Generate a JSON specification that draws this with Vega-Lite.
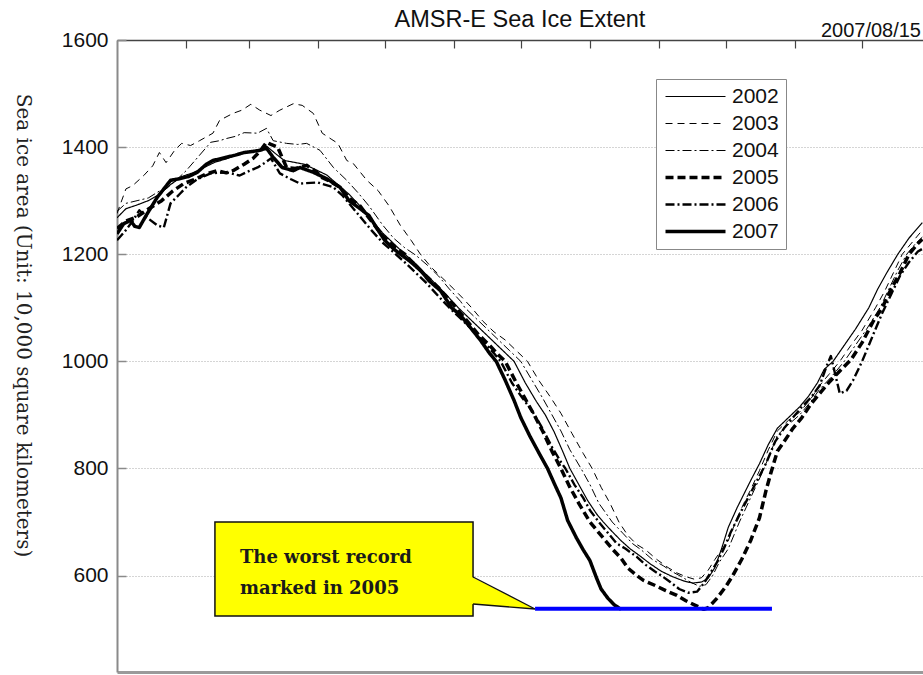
{
"$schema":"https://vega.github.io/schema/vega-lite/v6.json",
"width":806,"height":632,
"autosize":{"type":"none"},
"padding":{"left":117,"top":40,"right":0,"bottom":3},
"background":"white",
"title":{"text":"AMSR-E Sea Ice Extent","font":"Liberation Sans","fontSize":23.5,"fontWeight":"normal","color":"#111","offset":-29,"baseline":"alphabetic"},
"config":{"view":{"stroke":null}},
"resolve":{"axis":{"x":"independent"}},
"datasets":{
"ice":[
{"year":"2002","day":1,"extent":1268},{"year":"2002","day":5,"extent":1285},{"year":"2002","day":10,"extent":1292},{"year":"2002","day":15,"extent":1300},{"year":"2002","day":20,"extent":1312},{"year":"2002","day":25,"extent":1330},{"year":"2002","day":30,"extent":1345},{"year":"2002","day":35,"extent":1352},{"year":"2002","day":40,"extent":1362},{"year":"2002","day":45,"extent":1372},{"year":"2002","day":50,"extent":1378},{"year":"2002","day":55,"extent":1386},{"year":"2002","day":60,"extent":1390},{"year":"2002","day":65,"extent":1395},{"year":"2002","day":68,"extent":1402},{"year":"2002","day":72,"extent":1388},{"year":"2002","day":76,"extent":1375},{"year":"2002","day":80,"extent":1372},{"year":"2002","day":85,"extent":1368},{"year":"2002","day":90,"extent":1358},{"year":"2002","day":95,"extent":1348},{"year":"2002","day":100,"extent":1330},{"year":"2002","day":105,"extent":1312},{"year":"2002","day":110,"extent":1290},{"year":"2002","day":115,"extent":1265},{"year":"2002","day":120,"extent":1240},{"year":"2002","day":125,"extent":1220},{"year":"2002","day":130,"extent":1200},{"year":"2002","day":135,"extent":1182},{"year":"2002","day":140,"extent":1160},{"year":"2002","day":145,"extent":1140},{"year":"2002","day":150,"extent":1118},{"year":"2002","day":154,"extent":1100},{"year":"2002","day":159,"extent":1080},{"year":"2002","day":164,"extent":1060},{"year":"2002","day":169,"extent":1040},{"year":"2002","day":174,"extent":1020},{"year":"2002","day":179,"extent":1000},{"year":"2002","day":184,"extent":960},{"year":"2002","day":189,"extent":925},{"year":"2002","day":193,"extent":900},{"year":"2002","day":197,"extent":868},{"year":"2002","day":201,"extent":830},{"year":"2002","day":204,"extent":800},{"year":"2002","day":208,"extent":770},{"year":"2002","day":212,"extent":740},{"year":"2002","day":216,"extent":715},{"year":"2002","day":219,"extent":700},{"year":"2002","day":223,"extent":682},{"year":"2002","day":227,"extent":665},{"year":"2002","day":231,"extent":650},{"year":"2002","day":235,"extent":638},{"year":"2002","day":240,"extent":622},{"year":"2002","day":245,"extent":608},{"year":"2002","day":250,"extent":598},{"year":"2002","day":255,"extent":590},{"year":"2002","day":259,"extent":586},{"year":"2002","day":263,"extent":588},{"year":"2002","day":266,"extent":595},{"year":"2002","day":269,"extent":615},{"year":"2002","day":272,"extent":650},{"year":"2002","day":275,"extent":690},{"year":"2002","day":279,"extent":727},{"year":"2002","day":285,"extent":777},{"year":"2002","day":289,"extent":809},{"year":"2002","day":293,"extent":845},{"year":"2002","day":297,"extent":875},{"year":"2002","day":302,"extent":895},{"year":"2002","day":307,"extent":915},{"year":"2002","day":311,"extent":935},{"year":"2002","day":315,"extent":960},{"year":"2002","day":318,"extent":985},{"year":"2002","day":322,"extent":1000},{"year":"2002","day":327,"extent":1030},{"year":"2002","day":332,"extent":1060},{"year":"2002","day":338,"extent":1100},{"year":"2002","day":342,"extent":1135},{"year":"2002","day":346,"extent":1165},{"year":"2002","day":351,"extent":1200},{"year":"2002","day":356,"extent":1230},{"year":"2002","day":362,"extent":1259},
{"year":"2003","day":1,"extent":1276},{"year":"2003","day":5,"extent":1322},{"year":"2003","day":8,"extent":1328},{"year":"2003","day":13,"extent":1347},{"year":"2003","day":17,"extent":1365},{"year":"2003","day":20,"extent":1390},{"year":"2003","day":23,"extent":1371},{"year":"2003","day":27,"extent":1395},{"year":"2003","day":30,"extent":1407},{"year":"2003","day":34,"extent":1403},{"year":"2003","day":38,"extent":1412},{"year":"2003","day":44,"extent":1426},{"year":"2003","day":47,"extent":1450},{"year":"2003","day":53,"extent":1463},{"year":"2003","day":57,"extent":1469},{"year":"2003","day":61,"extent":1480},{"year":"2003","day":65,"extent":1469},{"year":"2003","day":70,"extent":1459},{"year":"2003","day":74,"extent":1469},{"year":"2003","day":80,"extent":1481},{"year":"2003","day":84,"extent":1478},{"year":"2003","day":89,"extent":1463},{"year":"2003","day":93,"extent":1426},{"year":"2003","day":97,"extent":1415},{"year":"2003","day":100,"extent":1407},{"year":"2003","day":104,"extent":1375},{"year":"2003","day":107,"extent":1369},{"year":"2003","day":113,"extent":1338},{"year":"2003","day":118,"extent":1319},{"year":"2003","day":123,"extent":1290},{"year":"2003","day":128,"extent":1254},{"year":"2003","day":133,"extent":1225},{"year":"2003","day":137,"extent":1200},{"year":"2003","day":142,"extent":1175},{"year":"2003","day":147,"extent":1155},{"year":"2003","day":152,"extent":1135},{"year":"2003","day":156,"extent":1118},{"year":"2003","day":160,"extent":1100},{"year":"2003","day":165,"extent":1075},{"year":"2003","day":170,"extent":1055},{"year":"2003","day":175,"extent":1040},{"year":"2003","day":180,"extent":1020},{"year":"2003","day":185,"extent":1000},{"year":"2003","day":190,"extent":965},{"year":"2003","day":195,"extent":935},{"year":"2003","day":200,"extent":903},{"year":"2003","day":205,"extent":865},{"year":"2003","day":210,"extent":828},{"year":"2003","day":214,"extent":800},{"year":"2003","day":218,"extent":765},{"year":"2003","day":222,"extent":735},{"year":"2003","day":226,"extent":700},{"year":"2003","day":230,"extent":675},{"year":"2003","day":234,"extent":658},{"year":"2003","day":238,"extent":648},{"year":"2003","day":243,"extent":630},{"year":"2003","day":248,"extent":615},{"year":"2003","day":252,"extent":605},{"year":"2003","day":256,"extent":598},{"year":"2003","day":260,"extent":593},{"year":"2003","day":263,"extent":596},{"year":"2003","day":266,"extent":610},{"year":"2003","day":269,"extent":630},{"year":"2003","day":272,"extent":648},{"year":"2003","day":275,"extent":665},{"year":"2003","day":279,"extent":708},{"year":"2003","day":282,"extent":735},{"year":"2003","day":285,"extent":760},{"year":"2003","day":289,"extent":796},{"year":"2003","day":293,"extent":835},{"year":"2003","day":297,"extent":870},{"year":"2003","day":302,"extent":890},{"year":"2003","day":307,"extent":905},{"year":"2003","day":312,"extent":930},{"year":"2003","day":316,"extent":955},{"year":"2003","day":320,"extent":975},{"year":"2003","day":325,"extent":1000},{"year":"2003","day":330,"extent":1030},{"year":"2003","day":335,"extent":1058},{"year":"2003","day":341,"extent":1100},{"year":"2003","day":345,"extent":1130},{"year":"2003","day":349,"extent":1165},{"year":"2003","day":353,"extent":1200},{"year":"2003","day":358,"extent":1225},{"year":"2003","day":362,"extent":1245},
{"year":"2004","day":1,"extent":1280},{"year":"2004","day":5,"extent":1295},{"year":"2004","day":10,"extent":1300},{"year":"2004","day":15,"extent":1305},{"year":"2004","day":20,"extent":1318},{"year":"2004","day":23,"extent":1322},{"year":"2004","day":28,"extent":1340},{"year":"2004","day":32,"extent":1356},{"year":"2004","day":37,"extent":1380},{"year":"2004","day":43,"extent":1409},{"year":"2004","day":47,"extent":1412},{"year":"2004","day":50,"extent":1416},{"year":"2004","day":54,"extent":1420},{"year":"2004","day":58,"extent":1427},{"year":"2004","day":64,"extent":1426},{"year":"2004","day":68,"extent":1435},{"year":"2004","day":71,"extent":1412},{"year":"2004","day":77,"extent":1407},{"year":"2004","day":82,"extent":1405},{"year":"2004","day":86,"extent":1407},{"year":"2004","day":92,"extent":1394},{"year":"2004","day":98,"extent":1362},{"year":"2004","day":104,"extent":1338},{"year":"2004","day":109,"extent":1315},{"year":"2004","day":114,"extent":1290},{"year":"2004","day":120,"extent":1255},{"year":"2004","day":125,"extent":1230},{"year":"2004","day":130,"extent":1212},{"year":"2004","day":135,"extent":1198},{"year":"2004","day":140,"extent":1180},{"year":"2004","day":145,"extent":1160},{"year":"2004","day":150,"extent":1135},{"year":"2004","day":155,"extent":1112},{"year":"2004","day":157,"extent":1100},{"year":"2004","day":162,"extent":1080},{"year":"2004","day":167,"extent":1060},{"year":"2004","day":172,"extent":1040},{"year":"2004","day":177,"extent":1020},{"year":"2004","day":182,"extent":1000},{"year":"2004","day":187,"extent":965},{"year":"2004","day":192,"extent":930},{"year":"2004","day":196,"extent":900},{"year":"2004","day":200,"extent":870},{"year":"2004","day":204,"extent":835},{"year":"2004","day":209,"extent":800},{"year":"2004","day":213,"extent":770},{"year":"2004","day":217,"extent":735},{"year":"2004","day":223,"extent":700},{"year":"2004","day":228,"extent":678},{"year":"2004","day":232,"extent":660},{"year":"2004","day":236,"extent":648},{"year":"2004","day":241,"extent":630},{"year":"2004","day":246,"extent":618},{"year":"2004","day":250,"extent":607},{"year":"2004","day":254,"extent":598},{"year":"2004","day":258,"extent":588},{"year":"2004","day":262,"extent":580},{"year":"2004","day":265,"extent":583},{"year":"2004","day":268,"extent":600},{"year":"2004","day":271,"extent":625},{"year":"2004","day":275,"extent":650},{"year":"2004","day":280,"extent":700},{"year":"2004","day":285,"extent":745},{"year":"2004","day":290,"extent":790},{"year":"2004","day":294,"extent":830},{"year":"2004","day":297,"extent":862},{"year":"2004","day":302,"extent":882},{"year":"2004","day":307,"extent":900},{"year":"2004","day":312,"extent":925},{"year":"2004","day":316,"extent":948},{"year":"2004","day":321,"extent":970},{"year":"2004","day":327,"extent":1000},{"year":"2004","day":332,"extent":1030},{"year":"2004","day":337,"extent":1060},{"year":"2004","day":343,"extent":1100},{"year":"2004","day":347,"extent":1135},{"year":"2004","day":351,"extent":1170},{"year":"2004","day":355,"extent":1200},{"year":"2004","day":359,"extent":1220},{"year":"2004","day":362,"extent":1232},
{"year":"2005","day":1,"extent":1248},{"year":"2005","day":5,"extent":1262},{"year":"2005","day":10,"extent":1270},{"year":"2005","day":16,"extent":1287},{"year":"2005","day":21,"extent":1300},{"year":"2005","day":26,"extent":1318},{"year":"2005","day":31,"extent":1332},{"year":"2005","day":36,"extent":1340},{"year":"2005","day":41,"extent":1350},{"year":"2005","day":46,"extent":1356},{"year":"2005","day":50,"extent":1352},{"year":"2005","day":53,"extent":1356},{"year":"2005","day":58,"extent":1368},{"year":"2005","day":62,"extent":1379},{"year":"2005","day":65,"extent":1392},{"year":"2005","day":68,"extent":1409},{"year":"2005","day":70,"extent":1405},{"year":"2005","day":73,"extent":1400},{"year":"2005","day":77,"extent":1362},{"year":"2005","day":81,"extent":1360},{"year":"2005","day":86,"extent":1366},{"year":"2005","day":90,"extent":1355},{"year":"2005","day":93,"extent":1343},{"year":"2005","day":97,"extent":1335},{"year":"2005","day":101,"extent":1325},{"year":"2005","day":105,"extent":1305},{"year":"2005","day":110,"extent":1290},{"year":"2005","day":115,"extent":1262},{"year":"2005","day":120,"extent":1235},{"year":"2005","day":125,"extent":1215},{"year":"2005","day":130,"extent":1200},{"year":"2005","day":135,"extent":1178},{"year":"2005","day":140,"extent":1158},{"year":"2005","day":145,"extent":1138},{"year":"2005","day":150,"extent":1115},{"year":"2005","day":153,"extent":1100},{"year":"2005","day":158,"extent":1075},{"year":"2005","day":163,"extent":1050},{"year":"2005","day":168,"extent":1030},{"year":"2005","day":172,"extent":1012},{"year":"2005","day":175,"extent":1000},{"year":"2005","day":180,"extent":960},{"year":"2005","day":184,"extent":930},{"year":"2005","day":188,"extent":900},{"year":"2005","day":192,"extent":868},{"year":"2005","day":196,"extent":832},{"year":"2005","day":200,"extent":800},{"year":"2005","day":204,"extent":765},{"year":"2005","day":208,"extent":735},{"year":"2005","day":213,"extent":700},{"year":"2005","day":218,"extent":675},{"year":"2005","day":223,"extent":650},{"year":"2005","day":227,"extent":632},{"year":"2005","day":230,"extent":614},{"year":"2005","day":234,"extent":600},{"year":"2005","day":237,"extent":591},{"year":"2005","day":242,"extent":582},{"year":"2005","day":247,"extent":572},{"year":"2005","day":252,"extent":563},{"year":"2005","day":256,"extent":553},{"year":"2005","day":260,"extent":545},{"year":"2005","day":264,"extent":537},{"year":"2005","day":266,"extent":540},{"year":"2005","day":270,"extent":558},{"year":"2005","day":274,"extent":580},{"year":"2005","day":277,"extent":600},{"year":"2005","day":281,"extent":630},{"year":"2005","day":285,"extent":665},{"year":"2005","day":289,"extent":708},{"year":"2005","day":292,"extent":760},{"year":"2005","day":294,"extent":790},{"year":"2005","day":297,"extent":832},{"year":"2005","day":300,"extent":850},{"year":"2005","day":304,"extent":875},{"year":"2005","day":308,"extent":895},{"year":"2005","day":312,"extent":920},{"year":"2005","day":316,"extent":940},{"year":"2005","day":320,"extent":960},{"year":"2005","day":325,"extent":982},{"year":"2005","day":330,"extent":1003},{"year":"2005","day":335,"extent":1035},{"year":"2005","day":340,"extent":1075},{"year":"2005","day":344,"extent":1100},{"year":"2005","day":348,"extent":1135},{"year":"2005","day":352,"extent":1165},{"year":"2005","day":356,"extent":1200},{"year":"2005","day":360,"extent":1220},{"year":"2005","day":362,"extent":1228},
{"year":"2006","day":1,"extent":1226},{"year":"2006","day":5,"extent":1245},{"year":"2006","day":8,"extent":1262},{"year":"2006","day":11,"extent":1282},{"year":"2006","day":14,"extent":1270},{"year":"2006","day":19,"extent":1254},{"year":"2006","day":22,"extent":1250},{"year":"2006","day":25,"extent":1295},{"year":"2006","day":29,"extent":1312},{"year":"2006","day":32,"extent":1325},{"year":"2006","day":37,"extent":1340},{"year":"2006","day":43,"extent":1351},{"year":"2006","day":50,"extent":1353},{"year":"2006","day":56,"extent":1347},{"year":"2006","day":60,"extent":1355},{"year":"2006","day":64,"extent":1362},{"year":"2006","day":67,"extent":1370},{"year":"2006","day":70,"extent":1379},{"year":"2006","day":74,"extent":1351},{"year":"2006","day":79,"extent":1340},{"year":"2006","day":83,"extent":1332},{"year":"2006","day":91,"extent":1334},{"year":"2006","day":98,"extent":1325},{"year":"2006","day":102,"extent":1310},{"year":"2006","day":105,"extent":1295},{"year":"2006","day":110,"extent":1270},{"year":"2006","day":115,"extent":1245},{"year":"2006","day":120,"extent":1222},{"year":"2006","day":126,"extent":1200},{"year":"2006","day":130,"extent":1185},{"year":"2006","day":135,"extent":1165},{"year":"2006","day":140,"extent":1145},{"year":"2006","day":145,"extent":1122},{"year":"2006","day":150,"extent":1100},{"year":"2006","day":155,"extent":1080},{"year":"2006","day":160,"extent":1060},{"year":"2006","day":165,"extent":1038},{"year":"2006","day":170,"extent":1015},{"year":"2006","day":173,"extent":1000},{"year":"2006","day":178,"extent":960},{"year":"2006","day":183,"extent":930},{"year":"2006","day":187,"extent":908},{"year":"2006","day":191,"extent":880},{"year":"2006","day":196,"extent":840},{"year":"2006","day":200,"extent":812},{"year":"2006","day":202,"extent":800},{"year":"2006","day":206,"extent":770},{"year":"2006","day":210,"extent":745},{"year":"2006","day":213,"extent":722},{"year":"2006","day":217,"extent":700},{"year":"2006","day":221,"extent":680},{"year":"2006","day":225,"extent":660},{"year":"2006","day":229,"extent":650},{"year":"2006","day":234,"extent":635},{"year":"2006","day":238,"extent":620},{"year":"2006","day":242,"extent":608},{"year":"2006","day":245,"extent":600},{"year":"2006","day":249,"extent":588},{"year":"2006","day":253,"extent":575},{"year":"2006","day":257,"extent":568},{"year":"2006","day":261,"extent":570},{"year":"2006","day":264,"extent":585},{"year":"2006","day":267,"extent":605},{"year":"2006","day":270,"extent":625},{"year":"2006","day":273,"extent":650},{"year":"2006","day":276,"extent":680},{"year":"2006","day":279,"extent":705},{"year":"2006","day":282,"extent":730},{"year":"2006","day":287,"extent":770},{"year":"2006","day":292,"extent":810},{"year":"2006","day":296,"extent":850},{"year":"2006","day":300,"extent":875},{"year":"2006","day":304,"extent":895},{"year":"2006","day":308,"extent":915},{"year":"2006","day":312,"extent":932},{"year":"2006","day":316,"extent":955},{"year":"2006","day":319,"extent":990},{"year":"2006","day":321,"extent":1010},{"year":"2006","day":323,"extent":975},{"year":"2006","day":325,"extent":940},{"year":"2006","day":328,"extent":945},{"year":"2006","day":331,"extent":965},{"year":"2006","day":335,"extent":1000},{"year":"2006","day":340,"extent":1050},{"year":"2006","day":344,"extent":1090},{"year":"2006","day":348,"extent":1125},{"year":"2006","day":352,"extent":1160},{"year":"2006","day":356,"extent":1185},{"year":"2006","day":360,"extent":1205},{"year":"2006","day":362,"extent":1210},
{"year":"2007","day":1,"extent":1238},{"year":"2007","day":4,"extent":1257},{"year":"2007","day":7,"extent":1263},{"year":"2007","day":9,"extent":1252},{"year":"2007","day":11,"extent":1250},{"year":"2007","day":14,"extent":1272},{"year":"2007","day":19,"extent":1306},{"year":"2007","day":25,"extent":1338},{"year":"2007","day":29,"extent":1341},{"year":"2007","day":33,"extent":1345},{"year":"2007","day":37,"extent":1353},{"year":"2007","day":41,"extent":1368},{"year":"2007","day":44,"extent":1375},{"year":"2007","day":50,"extent":1381},{"year":"2007","day":54,"extent":1385},{"year":"2007","day":58,"extent":1390},{"year":"2007","day":62,"extent":1392},{"year":"2007","day":65,"extent":1394},{"year":"2007","day":68,"extent":1398},{"year":"2007","day":71,"extent":1381},{"year":"2007","day":75,"extent":1362},{"year":"2007","day":80,"extent":1356},{"year":"2007","day":83,"extent":1362},{"year":"2007","day":89,"extent":1353},{"year":"2007","day":95,"extent":1341},{"year":"2007","day":101,"extent":1325},{"year":"2007","day":105,"extent":1300},{"year":"2007","day":110,"extent":1285},{"year":"2007","day":114,"extent":1272},{"year":"2007","day":118,"extent":1245},{"year":"2007","day":121,"extent":1226},{"year":"2007","day":125,"extent":1210},{"year":"2007","day":128,"extent":1200},{"year":"2007","day":132,"extent":1188},{"year":"2007","day":137,"extent":1170},{"year":"2007","day":141,"extent":1150},{"year":"2007","day":146,"extent":1132},{"year":"2007","day":151,"extent":1100},{"year":"2007","day":155,"extent":1086},{"year":"2007","day":160,"extent":1060},{"year":"2007","day":164,"extent":1039},{"year":"2007","day":168,"extent":1015},{"year":"2007","day":171,"extent":1000},{"year":"2007","day":175,"extent":965},{"year":"2007","day":179,"extent":927},{"year":"2007","day":182,"extent":895},{"year":"2007","day":186,"extent":861},{"year":"2007","day":190,"extent":830},{"year":"2007","day":194,"extent":800},{"year":"2007","day":197,"extent":772},{"year":"2007","day":200,"extent":745},{"year":"2007","day":203,"extent":703},{"year":"2007","day":207,"extent":670},{"year":"2007","day":210,"extent":648},{"year":"2007","day":213,"extent":628},{"year":"2007","day":216,"extent":595},{"year":"2007","day":218,"extent":575},{"year":"2007","day":221,"extent":558},{"year":"2007","day":224,"extent":545},{"year":"2007","day":227,"extent":537}
]
},
"layer":[
{
"data":{"values":[{"day":44.9,"day2":160.6,"extent":700,"extent2":524.6}]},
"mark":{"type":"rect","fill":"#ffff00","stroke":"#111","strokeWidth":1.5},
"encoding":{
"x":{"field":"day","type":"quantitative","scale":{"domain":[1,362.3],"nice":false,"zero":false},"axis":{"orient":"bottom","domainColor":"#9a9a9a","domainWidth":3,"ticks":false,"labels":false,"grid":false,"title":null}},
"x2":{"field":"day2"},
"y":{"field":"extent","type":"quantitative","title":"Sea ice area (Unit: 10,000 square kilometers)"},
"y2":{"field":"extent2"}
}
},
{
"data":{"values":[{"day":159.9,"extent":597.7,"extent2":546.8},{"day":188.4,"extent":537.6,"extent2":537.6}]},
"mark":{"type":"area","fill":"#ffff00","stroke":null,"orient":"vertical"},
"encoding":{
"x":{"field":"day","type":"quantitative","axis":null},
"y":{"field":"extent","type":"quantitative","title":"Sea ice area (Unit: 10,000 square kilometers)"},
"y2":{"field":"extent2"}
}
},
{
"data":{"values":[{"seq":1,"day":160.6,"extent":597.4},{"seq":2,"day":188.4,"extent":537.6},{"seq":3,"day":160.6,"extent":547}]},
"mark":{"type":"line","stroke":"#111","strokeWidth":1.3},
"encoding":{
"x":{"field":"day","type":"quantitative","axis":null},
"y":{"field":"extent","type":"quantitative","title":"Sea ice area (Unit: 10,000 square kilometers)"},
"order":{"field":"seq","type":"quantitative"}
}
},
{
"data":{"values":[{"day":56.1,"extent":623.5,"label":"The worst record\nmarked in 2005"}]},
"mark":{"type":"text","font":"DejaVu Serif","fontSize":18,"fontWeight":"bold","color":"#1a1a1a","align":"left","baseline":"alphabetic","lineBreak":"\n","lineHeight":31},
"encoding":{
"x":{"field":"day","type":"quantitative","axis":null},
"y":{"field":"extent","type":"quantitative","title":"Sea ice area (Unit: 10,000 square kilometers)"},
"text":{"field":"label"}
}
},
{
"data":{"name":"ice"},
"mark":{"type":"line","color":"black","clip":true,"strokeCap":"butt","strokeJoin":"round"},
"encoding":{
"x":{"field":"day","type":"quantitative","axis":{"orient":"top","values":[32,60,91,121,152,182,213,244,274,305,335],"labels":false,"title":null,"grid":false,"domainColor":"#444","domainWidth":1.5,"tickColor":"#444","tickSize":-8,"tickWidth":1.2}},
"y":{"field":"extent","type":"quantitative","scale":{"domain":[420,1600],"nice":false,"zero":false},"title":"Sea ice area (Unit: 10,000 square kilometers)",
"axis":{"values":[600,800,1000,1200,1400,1600],"format":"d","grid":true,"gridDash":[1,2],"gridColor":"#aaaaaa","gridWidth":1,"domainColor":"#8a8a8a","domainWidth":2,"tickColor":"#8a8a8a","tickSize":-9,"tickWidth":1.5,"labelFont":"Liberation Sans","labelFontSize":21,"labelColor":"#111","labelPadding":18,"titleFont":"DejaVu Serif","titleFontSize":20,"titleFontWeight":"normal","titleColor":"#222","titleAngle":90,"titleX":-95,"titleY":285,"titleAlign":"center","titleBaseline":"middle"}},
"strokeDash":{"field":"year","type":"ordinal","scale":{"type":"ordinal","domain":["2002","2003","2004","2005","2006","2007"],"range":[[1,0],[7,5],[9,3,2,3],[8,4],[9,3,2,3],[1,0]]},
"legend":{"title":null,"orient":"none","legendX":539,"legendY":39,"symbolType":"M-6,0H6","symbolSize":100,"symbolStrokeColor":"black","symbolFillColor":"transparent","symbolOffset":22,"labelOffset":26,"labelFont":"Liberation Sans","labelFontSize":21,"labelColor":"#111","strokeColor":"#888","fillColor":"white","padding":7,"rowPadding":5}},
"strokeWidth":{"field":"year","type":"ordinal","scale":{"type":"ordinal","domain":["2002","2003","2004","2005","2006","2007"],"range":[1.2,1,1,3.5,2.4,3.5]},
"legend":{"title":null,"orient":"none","legendX":539,"legendY":39,"symbolType":"M-6,0H6","symbolSize":100,"symbolStrokeColor":"black","symbolFillColor":"transparent","symbolOffset":22,"labelOffset":26,"labelFont":"Liberation Sans","labelFontSize":21,"labelColor":"#111","strokeColor":"#888","fillColor":"white","padding":7,"rowPadding":5}}
}
},
{
"data":{"values":[{"day":188.4,"day2":294.6,"extent":538}]},
"mark":{"type":"rule","stroke":"#0000ff","strokeWidth":4},
"encoding":{
"x":{"field":"day","type":"quantitative","axis":null},
"x2":{"field":"day2"},
"y":{"field":"extent","type":"quantitative","title":"Sea ice area (Unit: 10,000 square kilometers)"}
}
},
{
"data":{"values":[{"day":362.3,"extent":1600,"label":"2007/08/15"}]},
"mark":{"type":"text","font":"Liberation Sans","fontSize":20,"color":"#111","align":"right","baseline":"alphabetic","dx":-2,"dy":-3},
"encoding":{
"x":{"field":"day","type":"quantitative","axis":null},
"y":{"field":"extent","type":"quantitative","title":"Sea ice area (Unit: 10,000 square kilometers)"},
"text":{"field":"label"}
}
}
]
}
